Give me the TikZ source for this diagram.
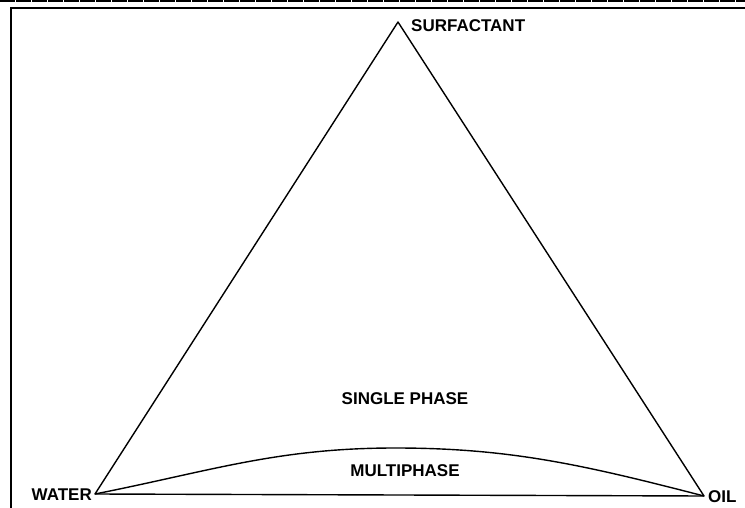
\documentclass[tikz,border=0pt]{standalone}
\usepackage{fontspec}
\setmainfont{Liberation Sans}
\usetikzlibrary{positioning}

\begin{document}
\begin{tikzpicture}[
    x=1pt, y=-1pt,
    lbl/.style={inner sep=0pt, font=\fontsize{17}{17}\selectfont\bfseries},
    side/.style={line width=1.4pt, line join=round},
    frame/.style={line width=2pt},
]
    \useasboundingbox (0,0) rectangle (745,508);

    % page frame
    \draw[line width=2.6pt, dash pattern=on 15pt off 1pt] (0,1) -- (745,1);
    \draw[frame] (11,508) |- (745,8);

    \coordinate (surf)  at (398,22);
    \coordinate (water) at (95,494);
    \coordinate (oil)   at (704,496);
    \coordinate (top)   at (395,448);

    \node[lbl, anchor=west] (surflbl)  at (411,26)  {SURFACTANT};
    \node[lbl, anchor=east] (waterlbl) at (92,495)  {WATER};
    \node[lbl, anchor=west] (oillbl)   at (708,497) {OIL};
    \node[lbl] (single) at (405,399) {SINGLE PHASE};
    \node[lbl] (multi)  at (405,471) {MULTIPHASE};

    \draw[side] (water) -- (surf) -- (oil) -- cycle;
    \draw[side] (water) .. controls (211,471) and (277,448) .. (top)
                        .. controls (510,448) and (584,465) .. (oil);
\end{tikzpicture}
\end{document}
